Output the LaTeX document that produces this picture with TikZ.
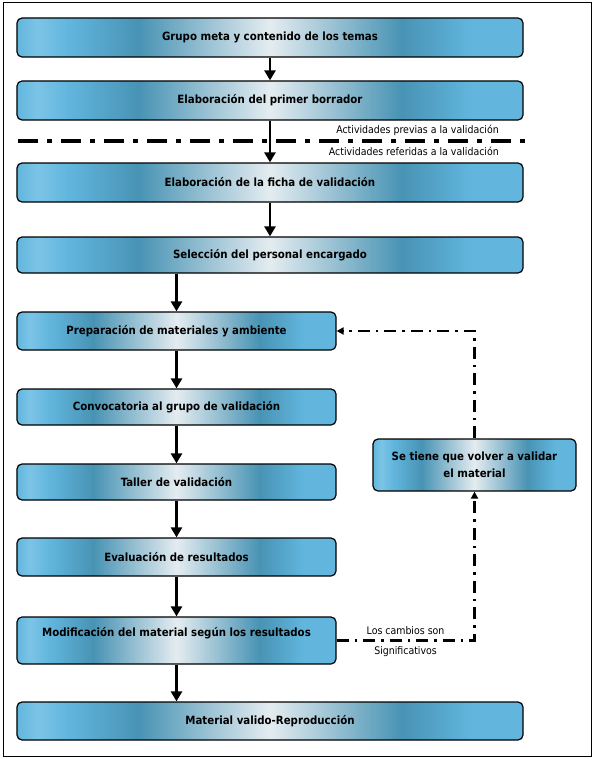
\documentclass[tikz,border=0pt]{standalone}
\usepackage{fontspec}
\setmainfont{DejaVu Sans Condensed}
\usetikzlibrary{arrows.meta,positioning}

\definecolor{boxlight}{HTML}{62B6DE}
\definecolor{boxedge}{HTML}{7CC4E6}
\definecolor{boxsteel}{HTML}{4893B4}
\definecolor{boxwhite}{HTML}{E4ECF0}
\pgfdeclarehorizontalshading{boxshade}{100bp}{color(0bp)=(boxlight); color(25bp)=(boxlight); color(27bp)=(boxedge); color(30bp)=(boxlight); color(37bp)=(boxsteel); color(50bp)=(boxwhite); color(63bp)=(boxsteel); color(70bp)=(boxlight); color(75bp)=(boxlight); color(100bp)=(boxlight)}

\tikzset{
  stage/.style={draw=black, line width=1.2bp, rounded corners=5bp, shade, shading=boxshade,
    inner sep=0pt, minimum height=38bp, font=\bfseries\fontsize{11.4}{17}\selectfont},
  widestage/.style={stage, minimum width=506bp},
  shortstage/.style={stage, minimum width=319bp},
  flow/.style={line width=2.8bp, -{Triangle[length=10bp,width=11bp]}},
  backloop/.style={line width=2.2bp, dash pattern=on 12bp off 6bp on 2.5bp off 6bp,
    -{Triangle[length=7bp,width=7bp]}},
  divider/.style={line width=3.5bp, dash pattern=on 20bp off 9bp on 5bp off 9bp},
  tag/.style={font=\fontsize{10.5}{12}\selectfont, inner sep=1bp}
}

\begin{document}
\begin{tikzpicture}[x=1bp, y=-1bp]
\useasboundingbox (0,0) rectangle (595,759);
\draw[line width=1bp] (3,3) rectangle (591,756);

% etapas
\node[widestage, minimum height=39bp] (grupo) at (270,37.5) {Grupo meta y contenido de los temas};
\node[widestage, minimum height=39bp] (borrador) at (270,100.5) {Elaboración del primer borrador};
\node[widestage, minimum height=39bp] (ficha) at (270,182.5) {Elaboración de la ficha de validación};
\node[widestage, minimum height=36bp] (personal) at (270,255) {Selección del personal encargado};
\node[shortstage] (prepara) at (176.5,331) {Preparación de materiales y ambiente};
\node[shortstage, minimum height=36bp] (convoca) at (176.5,407) {Convocatoria al grupo de validación};
\node[shortstage, minimum height=36bp] (taller) at (176.5,482) {Taller de validación};
\node[shortstage] (evalua) at (176.5,557) {Evaluación de resultados};
\node[shortstage, minimum height=47bp, text height=8bp, text depth=17bp] (modifica) at (176.5,640.5) {Modificación del material según los resultados};
\node[widestage] (final) at (270,721) {Material valido-Reproducción};
\node[stage, minimum width=203bp, minimum height=52bp, align=center] (revalida) at (474.5,465) {Se tiene que volver a validar\\el material};

% linea divisoria
\coordinate (divL) at (18,141);
\coordinate (divR) at (525,141);
\draw[divider] (divL) -- (divR);
\node[tag, anchor=south east] (previas) at (500,137) {Actividades previas a la validación};
\node[tag, anchor=north east] (referidas) at (500,146) {Actividades referidas a la validación};

% flujo principal
\draw[flow] (grupo) -- (borrador);
\draw[flow] (borrador) -- (ficha);
\draw[flow] (ficha) -- (personal);
\draw[flow] (personal.south -| prepara) -- (prepara);
\draw[flow] (prepara) -- (convoca);
\draw[flow] (convoca) -- (taller);
\draw[flow] (taller) -- (evalua);
\draw[flow] (evalua) -- (modifica);
\draw[flow] (modifica.south) -- (modifica.south |- final.north);

% retorno
\draw[backloop] (modifica.east) -| (revalida.south)
  node[tag, pos=0.25, above=4bp] {Los cambios son}
  node[tag, pos=0.25, below=4bp] {Significativos};
\draw[backloop] (revalida.north) |- (prepara.east);
\end{tikzpicture}
\end{document}
